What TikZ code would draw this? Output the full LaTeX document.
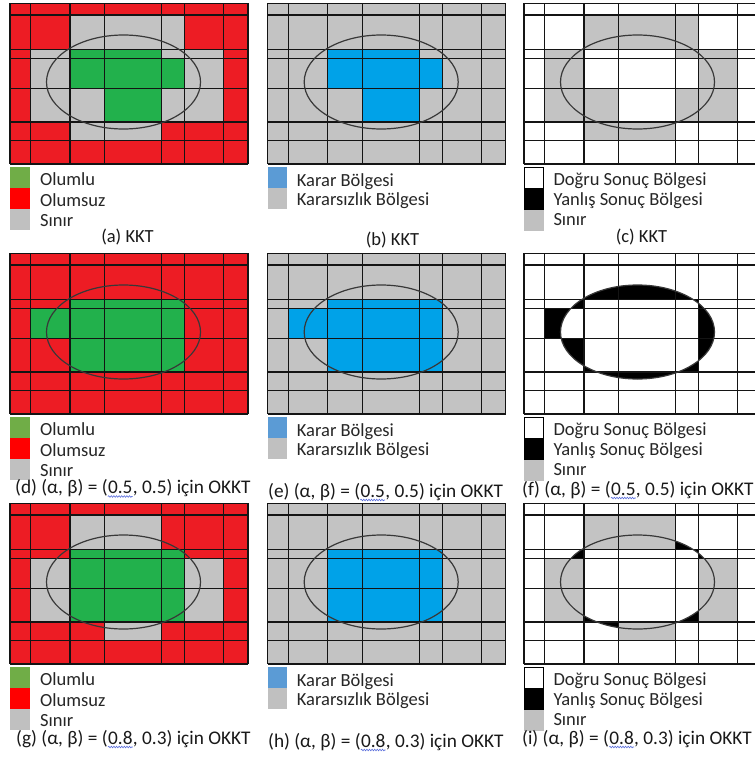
\documentclass[tikz,border=0pt]{standalone}
\usepackage{fontspec}
\setmainfont{Carlito}
\usetikzlibrary{decorations.pathmorphing}
\definecolor{gred}{RGB}{237,28,36}
\definecolor{ggreen}{RGB}{34,177,76}
\definecolor{ggray}{RGB}{195,195,195}
\definecolor{gblue}{RGB}{0,162,232}
\definecolor{lred}{RGB}{255,0,0}
\definecolor{lgreen}{RGB}{112,173,71}
\definecolor{lgray}{RGB}{192,192,192}
\definecolor{lblue}{RGB}{91,155,213}
\definecolor{wavyblue}{RGB}{90,110,220}
\expandafter\def\csname gcx0\endcsname{0}
\expandafter\def\csname gcx1\endcsname{20.7}
\expandafter\def\csname gcx2\endcsname{60}
\expandafter\def\csname gcx3\endcsname{94.7}
\expandafter\def\csname gcx4\endcsname{151.7}
\expandafter\def\csname gcx5\endcsname{174.7}
\expandafter\def\csname gcx6\endcsname{213.7}
\expandafter\def\csname gcx7\endcsname{238}
\expandafter\def\csname gcy0\endcsname{3.3}
\expandafter\def\csname gcy1\endcsname{15}
\expandafter\def\csname gcy2\endcsname{49.3}
\expandafter\def\csname gcy3\endcsname{58.3}
\expandafter\def\csname gcy4\endcsname{88.7}
\expandafter\def\csname gcy5\endcsname{122}
\expandafter\def\csname gcy6\endcsname{140.5}
\expandafter\def\csname gcy7\endcsname{164}
\newcommand\gcx[1]{\csname gcx#1\endcsname}
\newcommand\gcy[1]{\csname gcy#1\endcsname}
\newcommand\cellbox[5]{\fill[#1] (\gcx{#2},\gcy{#3}) rectangle (\gcx{#4},\gcy{#5});}
\newcommand\panelgrid{%
  \foreach \i in {0,...,7}{\draw[gline] (\gcx{\i},\gcy{0}) -- (\gcx{\i},\gcy{7});}
  \foreach \j in {0,...,7}{\draw[gline] (\gcx{0},\gcy{\j}) -- (\gcx{7},\gcy{\j});}
  \draw[ell] (113.5,82) ellipse [x radius=77, y radius=47];}
\newcommand\ellpath{(113.5,82) ellipse [x radius=77, y radius=47]}
\tikzset{
  gline/.style={draw=black!92, line width=1.4pt},
  ell/.style={draw=black!78, line width=1.2pt},
  legtext/.style={font=\fontsize{18.5}{20}\selectfont, inner sep=0pt, anchor=base west, text=black!85},
  captxt/.style={font=\fontsize{18.5}{20}\selectfont, inner sep=0pt, text=black!90},
  captlong/.style={font=\fontsize{19.3}{21}\selectfont, inner sep=0pt, text=black!90, anchor=base west},
  wavy/.style={draw=wavyblue, line width=0.6pt, decorate, decoration={snake, amplitude=0.8pt, segment length=2.6pt}}
}
\begin{document}
\begin{tikzpicture}[x=1pt,y=-1pt]
\useasboundingbox (0,0) rectangle (755,758);
\clip (0,0) rectangle (755,758);
\fill[white] (0,0) rectangle (755,758);

% ---------- (a) ----------
\begin{scope}[shift={(10,0)}]
  \cellbox{gred}{0}{0}{7}{7}
  \cellbox{ggray}{2}{1}{5}{2}
  \cellbox{ggray}{1}{2}{2}{3}\cellbox{ggray}{4}{2}{6}{3}
  \cellbox{ggray}{1}{3}{2}{4}\cellbox{ggray}{5}{3}{6}{4}
  \cellbox{ggray}{1}{4}{3}{5}\cellbox{ggray}{4}{4}{6}{5}
  \cellbox{ggray}{2}{5}{4}{6}
  \cellbox{ggreen}{2}{2}{4}{3}
  \cellbox{ggreen}{2}{3}{5}{4}
  \cellbox{ggreen}{3}{4}{4}{5}
  \panelgrid
  \fill[lgreen] (0,167) rectangle (20,188);
  \fill[lred] (0,188) rectangle (20,209);
  \fill[lgray] (0,209) rectangle (20,230);
  \node[legtext] (la1) at (30,185.5) {Olumlu};
  \node[legtext] (la2) at (30,206) {Olumsuz};
  \node[legtext] (la3) at (30,226) {Sınır};
\end{scope}

% ---------- (b) ----------
\begin{scope}[shift={(267.7,0)}]
  \cellbox{ggray}{0}{0}{7}{7}
  \cellbox{gblue}{2}{2}{4}{3}
  \cellbox{gblue}{2}{3}{5}{4}
  \cellbox{gblue}{3}{4}{4}{5}
  \panelgrid
  \fill[lblue] (0,167) rectangle (19.6,188);
  \fill[lgray] (0,188) rectangle (19.6,209);
  \node[legtext] (lb1) at (29,186.5) {Karar Bölgesi};
  \node[legtext] (lb2) at (29,205.5) {Kararsızlık Bölgesi};
\end{scope}

% ---------- (c) ----------
\begin{scope}[shift={(524,0)}]
  \cellbox{white}{0}{0}{7}{7}
  \cellbox{ggray}{2}{1}{5}{2}
  \cellbox{ggray}{1}{2}{2}{3}\cellbox{ggray}{4}{2}{6}{3}
  \cellbox{ggray}{1}{3}{2}{4}\cellbox{ggray}{5}{3}{6}{4}
  \cellbox{ggray}{1}{4}{3}{5}\cellbox{ggray}{4}{4}{6}{5}
  \cellbox{ggray}{2}{5}{4}{6}
  \panelgrid
  \filldraw[fill=white, draw=black, line width=0.8pt] (0.4,167.4) rectangle (19.3,188);
  \fill[black] (0,188) rectangle (19.7,210);
  \fill[lgray] (0,210) rectangle (19.7,231);
  \node[legtext] (lc1) at (29.3,185.7) {Doğru Sonuç Bölgesi};
  \node[legtext] (lc2) at (29.3,205.7) {Yanlış Sonuç Bölgesi};
  \node[legtext] (lc3) at (29.3,225.7) {Sınır};
\end{scope}

% ---------- (d) ----------
\begin{scope}[shift={(10,250)}]
  \cellbox{gred}{0}{0}{7}{7}
  \cellbox{ggreen}{2}{2}{5}{5}
  \cellbox{ggreen}{1}{3}{2}{4}
  \panelgrid
  \fill[lgreen] (0,167) rectangle (20,188);
  \fill[lred] (0,188) rectangle (20,209);
  \fill[lgray] (0,209) rectangle (20,230);
  \node[legtext] (ld1) at (30,185.5) {Olumlu};
  \node[legtext] (ld2) at (30,206) {Olumsuz};
  \node[legtext] (ld3) at (30,226) {Sınır};
\end{scope}

% ---------- (e) ----------
\begin{scope}[shift={(267.7,250)}]
  \cellbox{ggray}{0}{0}{7}{7}
  \cellbox{gblue}{2}{2}{5}{5}
  \cellbox{gblue}{1}{3}{2}{4}
  \panelgrid
  \fill[lblue] (0,167) rectangle (19.6,188);
  \fill[lgray] (0,188) rectangle (19.6,209);
  \node[legtext] (le1) at (29,186.5) {Karar Bölgesi};
  \node[legtext] (le2) at (29,205.5) {Kararsızlık Bölgesi};
\end{scope}

% ---------- (f) ----------
\begin{scope}[shift={(524,250)}]
  \cellbox{white}{0}{0}{7}{7}
  \fill[black, even odd rule] \ellpath
    (\gcx{2},\gcy{2}) -- (\gcx{5},\gcy{2}) -- (\gcx{5},\gcy{5}) -- (\gcx{2},\gcy{5})
    -- (\gcx{2},\gcy{4}) -- (\gcx{1},\gcy{4}) -- (\gcx{1},\gcy{3}) -- (\gcx{2},\gcy{3}) -- cycle;
  \panelgrid
  \filldraw[fill=white, draw=black, line width=0.8pt] (0.4,167.4) rectangle (19.3,188);
  \fill[black] (0,188) rectangle (19.7,210);
  \fill[lgray] (0,210) rectangle (19.7,231);
  \node[legtext] (lf1) at (29.3,185.7) {Doğru Sonuç Bölgesi};
  \node[legtext] (lf2) at (29.3,205.7) {Yanlış Sonuç Bölgesi};
  \node[legtext] (lf3) at (29.3,225.7) {Sınır};
\end{scope}

% ---------- (g) ----------
\begin{scope}[shift={(10,500)}]
  \cellbox{gred}{0}{0}{7}{7}
  \cellbox{ggray}{2}{1}{4}{2}
  \cellbox{ggray}{1}{3}{2}{5}\cellbox{ggray}{5}{3}{6}{5}
  \cellbox{ggray}{3}{5}{4}{6}
  \cellbox{ggreen}{2}{2}{5}{5}
  \panelgrid
  \fill[lgreen] (0,167) rectangle (20,188);
  \fill[lred] (0,188) rectangle (20,209);
  \fill[lgray] (0,209) rectangle (20,230);
  \node[legtext] (lg1) at (30,185.5) {Olumlu};
  \node[legtext] (lg2) at (30,206) {Olumsuz};
  \node[legtext] (lg3) at (30,226) {Sınır};
\end{scope}

% ---------- (h) ----------
\begin{scope}[shift={(267.7,500)}]
  \cellbox{ggray}{0}{0}{7}{7}
  \cellbox{gblue}{2}{2}{5}{5}
  \panelgrid
  \fill[lblue] (0,167) rectangle (19.6,188);
  \fill[lgray] (0,188) rectangle (19.6,209);
  \node[legtext] (lh1) at (29,186.5) {Karar Bölgesi};
  \node[legtext] (lh2) at (29,205.5) {Kararsızlık Bölgesi};
\end{scope}

% ---------- (i) ----------
\begin{scope}[shift={(524,500)}]
  \cellbox{white}{0}{0}{7}{7}
  \fill[black, even odd rule] \ellpath (\gcx{2},\gcy{2}) rectangle (\gcx{5},\gcy{5});
  \cellbox{ggray}{2}{1}{4}{2}
  \cellbox{ggray}{1}{3}{2}{5}\cellbox{ggray}{5}{3}{6}{5}
  \cellbox{ggray}{3}{5}{4}{6}
  \panelgrid
  \filldraw[fill=white, draw=black, line width=0.8pt] (0.4,167.4) rectangle (19.3,188);
  \fill[black] (0,188) rectangle (19.7,210);
  \fill[lgray] (0,210) rectangle (19.7,231);
  \node[legtext] (li1) at (29.3,185.7) {Doğru Sonuç Bölgesi};
  \node[legtext] (li2) at (29.3,205.7) {Yanlış Sonuç Bölgesi};
  \node[legtext] (li3) at (29.3,225.7) {Sınır};
\end{scope}

% ---------- captions ----------
\node[captxt, anchor=base] (capa) at (127.5,242.5) {(a) KKT};
\node[captxt, anchor=base] (capb) at (392.5,245) {(b) KKT};
\node[captxt, anchor=base] (capc) at (641.5,242.5) {(c) KKT};

\node[captlong] (capd1) at (15,493.5) {(d) (α, β) = (};
\node[captlong] (capd2) at (capd1.base east) {0.5};
\node[captlong] (capd3) at (capd2.base east) {, 0.5) için OKKT};
\draw[wavy] ([yshift=-3pt]capd2.base west) -- ([yshift=-3pt]capd2.base east);

\node[captlong] (cape1) at (268,497) {(e) (α, β) = (};
\node[captlong] (cape2) at (cape1.base east) {0.5};
\node[captlong] (cape3) at (cape2.base east) {, 0.5) için OKKT};
\draw[wavy] ([yshift=-3pt]cape2.base west) -- ([yshift=-3pt]cape2.base east);

\node[captlong] (capf1) at (522,495) {(f) (α, β) = (};
\node[captlong] (capf2) at (capf1.base east) {0.5};
\node[captlong] (capf3) at (capf2.base east) {, 0.5) için OKKT};
\draw[wavy] ([yshift=-3pt]capf2.base west) -- ([yshift=-3pt]capf2.base east);

\node[captlong] (capg1) at (16,744) {(g) (α, β) = (};
\node[captlong] (capg2) at (capg1.base east) {0.8};
\node[captlong] (capg3) at (capg2.base east) {, 0.3) için OKKT};
\draw[wavy] ([yshift=-3pt]capg2.base west) -- ([yshift=-3pt]capg2.base east);

\node[captlong] (caph1) at (268,747) {(h) (α, β) = (};
\node[captlong] (caph2) at (caph1.base east) {0.8};
\node[captlong] (caph3) at (caph2.base east) {, 0.3) için OKKT};
\draw[wavy] ([yshift=-3pt]caph2.base west) -- ([yshift=-3pt]caph2.base east);

\node[captlong] (capi1) at (522,744) {(i) (α, β) = (};
\node[captlong] (capi2) at (capi1.base east) {0.8};
\node[captlong] (capi3) at (capi2.base east) {, 0.3) için OKKT};
\draw[wavy] ([yshift=-3pt]capi2.base west) -- ([yshift=-3pt]capi2.base east);
\end{tikzpicture}
\end{document}
